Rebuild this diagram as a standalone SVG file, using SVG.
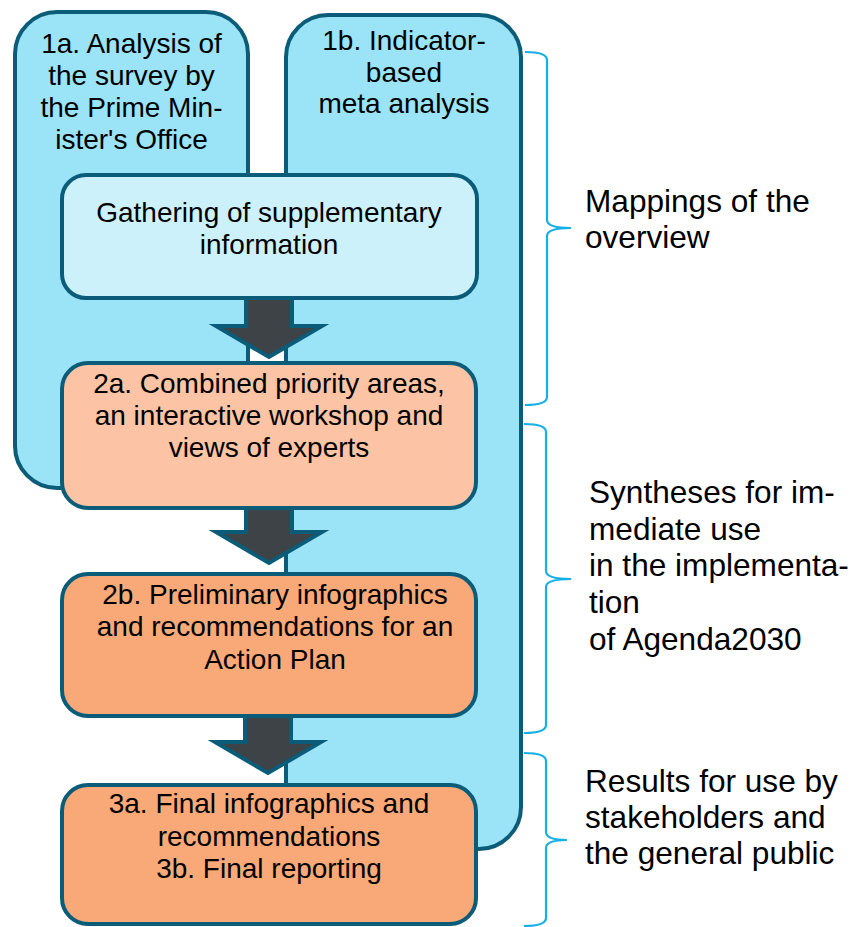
<svg xmlns="http://www.w3.org/2000/svg" width="857" height="927" viewBox="0 0 857 927">
<style>
.box{stroke:#0b5c78;stroke-width:4}
.outer{fill:#9be4f7}
.gather{fill:#cdf1fb}
.p2a{fill:#fcc4a4}
.p2b{fill:#f9a977}
.arrow{fill:#3d4347;stroke:#0b5c78;stroke-width:4;stroke-linejoin:miter}
.brace{fill:none;stroke:#17b0e6;stroke-width:2.2}
text{font-family:"Liberation Sans",Arial,sans-serif;fill:#000}
.t{font-size:28px;text-anchor:middle}
.lab{font-size:31.6px}
</style>
<rect width="857" height="927" fill="#fff"/>
<g id="node-1a">
<rect class="box outer" x="15" y="12" width="233" height="476" rx="42"/>
<text class="t" x="131.5" y="53">1a. Analysis of</text>
<text class="t" x="131.5" y="85">the survey by</text>
<text class="t" x="131.5" y="117">the Prime Min-</text>
<text class="t" x="131.5" y="149">ister's Office</text>
</g>
<g id="node-1b">
<rect class="box outer" x="286" y="15" width="235" height="834" rx="42"/>
<text class="t" x="404" y="50">1b. Indicator-</text>
<text class="t" x="404" y="82">based</text>
<text class="t" x="404" y="113">meta analysis</text>
</g>
<g id="node-gather">
<rect class="box gather" x="62" y="175" width="415" height="123" rx="24"/>
<text class="t" x="269" y="222">Gathering of supplementary</text>
<text class="t" x="269" y="254">information</text>
</g>
<g id="connectors">
<polygon class="arrow" points="246,298 246,326 216,326 269,357 322,326 292,326 292,298"/>
<polygon class="arrow" points="246,508 246,532 216,532 269,563 322,532 292,532 292,508"/>
<polygon class="arrow" points="245,716 245,742 215,742 268,773 321,742 291,742 291,716"/>
</g>
<g id="node-2a">
<rect class="box p2a" x="62" y="363" width="414" height="145" rx="26"/>
<text class="t" x="269" y="393">2a. Combined priority areas,</text>
<text class="t" x="269" y="425">an interactive workshop and</text>
<text class="t" x="269" y="457">views of experts</text>
</g>
<g id="node-2b">
<rect class="box p2b" x="62" y="574" width="414" height="142" rx="26"/>
<text class="t" x="275" y="604">2b. Preliminary infographics</text>
<text class="t" x="275" y="636">and recommendations for an</text>
<text class="t" x="275" y="669">Action Plan</text>
</g>
<g id="node-3a">
<rect class="box p2b" x="62" y="785" width="414" height="139" rx="26"/>
<text class="t" x="269" y="813">3a. Final infographics and</text>
<text class="t" x="269" y="846">recommendations</text>
<text class="t" x="269" y="878">3b. Final reporting</text>
</g>
<g id="braces">
<path class="brace" d="M525,52 Q547,52 547,60 V220 Q547,228 571,228 Q547,228 547,236 V397 Q547,405 525,405"/>
<path class="brace" d="M524,424 Q546,424 546,432 V571 Q546,579 571,579 Q546,579 546,587 V725 Q546,733 524,733"/>
<path class="brace" d="M524,753 Q546,753 546,761 V832 Q546,840 567,840 Q546,840 546,848 V918 Q546,926 524,926"/>
</g>
<g id="labels">
<text class="lab" x="585" y="212">Mappings of the</text>
<text class="lab" x="585" y="248">overview</text>
<text class="lab" x="589" y="503">Syntheses for im-</text>
<text class="lab" x="589" y="540">mediate use</text>
<text class="lab" x="589" y="576">in the implementa-</text>
<text class="lab" x="589" y="613">tion</text>
<text class="lab" x="589" y="650">of Agenda2030</text>
<text class="lab" x="585" y="792">Results for use by</text>
<text class="lab" x="585" y="828">stakeholders and</text>
<text class="lab" x="585" y="864">the general public</text>
</g>
</svg>
